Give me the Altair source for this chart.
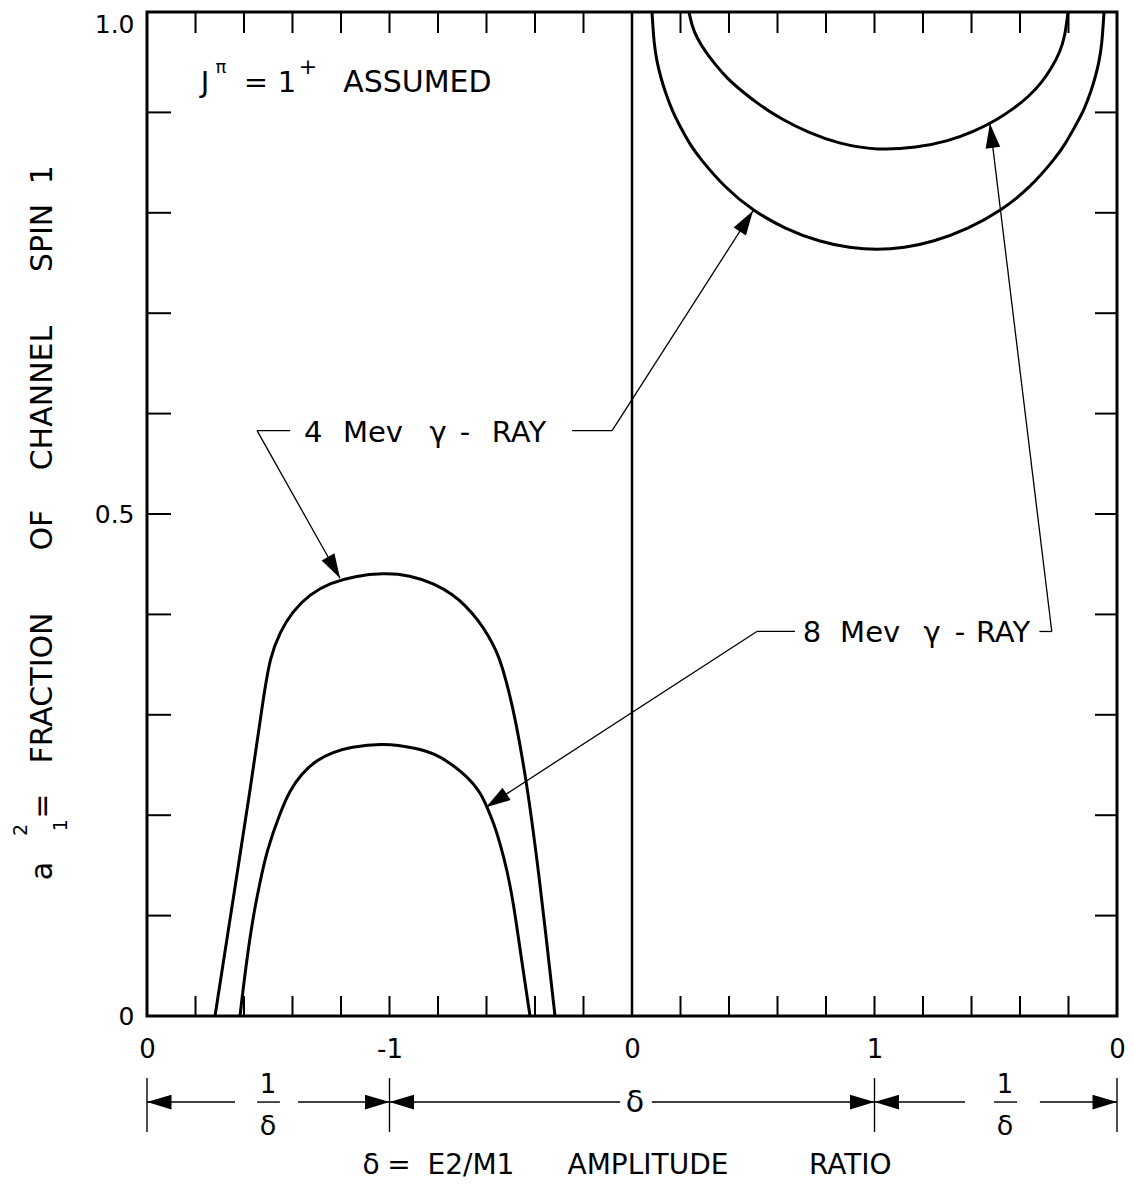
import json
import math

import altair as alt
import pandas as pd

# ---------------------------------------------------------------------------
# Plot geometry (plot area only; everything else lives in the padding)
# ---------------------------------------------------------------------------
W, H = 970, 1004
PAD = {"left": 147, "top": 12, "right": 17, "bottom": 183}
PX_PER_U = W / 4.0
FONT = "DejaVu Sans"
INK = "black"

# Horizontal coordinate u runs 0..4:
#   0..1  -> 1/δ from 0 to -1,  1..3 -> δ from -1 to +1,  3..4 -> 1/δ from +1 to 0
AXIS_POS = [0, 1, 2, 3, 4]
AXIS_TEXT = ["0", "-1", "0", "1", "0"]
Y_LABEL_POS = [0, 0.5, 1.0]
Y_MINOR = [0.1, 0.2, 0.3, 0.4, 0.5, 0.6, 0.7, 0.8, 0.9]
X_MINOR = [0.2, 0.4, 0.6, 0.8, 1.0, 1.2, 1.4, 1.6, 1.8, 2.0,
           2.2, 2.4, 2.6, 2.8, 3.0, 3.2, 3.4, 3.6, 3.8]

# ---------------------------------------------------------------------------
# a1^2 limits for the 4 MeV and 8 MeV gamma rays
# ---------------------------------------------------------------------------
low_4mev_u = [0.2804, 0.3546, 0.4289, 0.4784, 0.5072, 0.5485, 0.5979, 0.6722,
              0.7546, 0.8577, 0.9732, 1.0845, 1.1876, 1.2577, 1.3155, 1.3649,
              1.4062, 1.4392, 1.4639, 1.4887, 1.5175, 1.5670, 1.6206, 1.6495,
              1.6825]
low_4mev_a = [0.0, 0.1155, 0.2301, 0.3147, 0.3576, 0.3825, 0.4024, 0.4203,
              0.4313, 0.4382, 0.4412, 0.4392, 0.4303, 0.4203, 0.4084, 0.3944,
              0.3795, 0.3645, 0.3486, 0.3267, 0.2978, 0.2321, 0.1325, 0.0707,
              0.0]

low_8mev_u = [0.3835, 0.4082, 0.4371, 0.4660, 0.4948, 0.5485, 0.5897, 0.6392,
              0.7010, 0.7670, 0.8371, 0.9732, 1.1134, 1.1876, 1.2495, 1.3031,
              1.3443, 1.3773, 1.4021, 1.4309, 1.4557, 1.4845, 1.5093, 1.5423,
              1.5794]
low_8mev_a = [0.0, 0.0508, 0.0986, 0.1335, 0.1653, 0.2022, 0.2251, 0.2420,
              0.2550, 0.2629, 0.2679, 0.2719, 0.2669, 0.2610, 0.2520, 0.2420,
              0.2321, 0.2211, 0.2082, 0.1912, 0.1723, 0.1454, 0.1155, 0.0598,
              0.0]

up_4mev_u = [2.0825, 2.0907, 2.1031, 2.1196, 2.1361, 2.1649, 2.1979, 2.2392,
             2.2804, 2.3835, 2.4990, 2.6309, 2.7753, 2.8990, 3.0103, 3.1216,
             3.2412, 3.3856, 3.5216, 3.6412, 3.7443, 3.7856, 3.8268, 3.8639,
             3.8928, 3.9093, 3.9258, 3.9381, 3.9464]
up_4mev_a = [1.0, 0.968, 0.950, 0.934, 0.921, 0.902, 0.886, 0.868,
             0.854, 0.825, 0.802, 0.784, 0.771, 0.765, 0.763, 0.765,
             0.771, 0.784, 0.802, 0.825, 0.854, 0.868, 0.886, 0.902,
             0.921, 0.934, 0.950, 0.968, 1.0]

up_8mev_u = [2.2351, 2.2474, 2.2680, 2.3010, 2.3423, 2.3918, 2.4536, 2.5278,
             2.6186, 2.7258, 2.8495, 3.0103, 3.1753, 3.2990, 3.4103, 3.5010,
             3.5753, 3.6371, 3.6907, 3.7320, 3.7649, 3.7856, 3.7979]
up_8mev_a = [1.0, 0.986, 0.974, 0.961, 0.948, 0.934, 0.921, 0.907,
             0.893, 0.880, 0.869, 0.862, 0.865, 0.871, 0.881, 0.892,
             0.904, 0.916, 0.930, 0.945, 0.960, 0.976, 1.0]

curve_sets = {
    "4 MeV, δ<0": (low_4mev_u, low_4mev_a),
    "8 MeV, δ<0": (low_8mev_u, low_8mev_a),
    "4 MeV, δ>0": (up_4mev_u, up_4mev_a),
    "8 MeV, δ>0": (up_8mev_u, up_8mev_a),
}
curve_rows = []
for name, (us, vals) in curve_sets.items():
    for i, (u, v) in enumerate(zip(us, vals)):
        curve_rows.append({"curve": name, "i": i, "u": u, "a2": v})
curves_df = pd.DataFrame(curve_rows)

# ---------------------------------------------------------------------------
# Annotation layout (in axis units)
# ---------------------------------------------------------------------------
# text, u, a2, font size, rotation
labels = [
    ("J", 0.239, 0.929, 29, 0), ("π", 0.305, 0.944, 18, 0),
    ("=", 0.449, 0.929, 29, 0), ("1", 0.577, 0.929, 29, 0),
    ("+", 0.664, 0.945, 22, 0), ("ASSUMED", 1.115, 0.929, 30, 0),

    ("4", 0.685, 0.581, 29, 0), ("Mev", 0.932, 0.581, 29, 0),
    ("γ", 1.200, 0.581, 29, 0), ("-", 1.311, 0.581, 29, 0),
    ("RAY", 1.534, 0.581, 29, 0),

    ("8", 2.742, 0.381, 29, 0), ("Mev", 2.982, 0.381, 29, 0),
    ("γ", 3.237, 0.381, 29, 0), ("-", 3.353, 0.381, 29, 0),
    ("RAY", 3.530, 0.381, 29, 0),

    # span markers under the axis
    ("1", 0.499, -0.0687, 26, 0), ("δ", 0.499, -0.1106, 27, 0),
    ("δ", 2.012, -0.0867, 30, 0),
    ("1", 3.538, -0.0687, 26, 0), ("δ", 3.538, -0.1106, 27, 0),

    # horizontal title
    ("δ", 0.924, -0.1494, 28, 0), ("=", 1.039, -0.1494, 28, 0),
    ("E2/M1", 1.336, -0.1494, 28, 0), ("AMPLITUDE", 2.066, -0.1494, 28, 0),
    ("RATIO", 2.900, -0.1494, 28, 0),

    # vertical title
    ("a", -0.429, 0.1444, 30, 270), ("2", -0.520, 0.1853, 19, 270),
    ("1", -0.355, 0.1900, 19, 270), ("=", -0.429, 0.2090, 30, 270),
    ("FRACTION", -0.429, 0.3267, 30, 270), ("OF", -0.429, 0.4840, 30, 270),
    ("CHANNEL", -0.429, 0.6155, 30, 270), ("SPIN", -0.429, 0.7750, 30, 270),
    ("1", -0.429, 0.8380, 30, 270),
]
labels_df = pd.DataFrame(labels, columns=["text", "u", "a2", "fs", "rot"])

# leader lines: (u0, a0, u1, a1, has arrow at (u1, a1))
leaders = [
    (0.454, 0.583, 0.590, 0.583, False),
    (0.454, 0.583, 0.796, 0.436, True),
    (1.753, 0.583, 1.918, 0.583, False),
    (1.918, 0.583, 2.499, 0.802, True),
    (2.515, 0.383, 2.672, 0.383, False),
    (2.515, 0.383, 1.398, 0.208, True),
    (3.680, 0.383, 3.731, 0.383, False),
    (3.731, 0.383, 3.476, 0.889, True),
]
leaders_df = pd.DataFrame(leaders, columns=["u0", "a0", "u1", "a1", "arrow"])

# span row below the axis
ROW = -0.0857
span_lines = [(0.0, 0.363), (0.623, 1.0), (1.0, 1.951), (2.082, 3.0),
              (3.0, 3.373), (3.682, 4.0), (0.454, 0.548), (3.493, 3.588)]
span_df = pd.DataFrame(span_lines, columns=["u0", "u1"]).assign(a=ROW)
span_ticks_df = pd.DataFrame({"u": [0, 1, 3, 4], "a0": -0.0618, "a1": -0.1155})

arrow_rows = [(u, ROW, ang) for u, ang in
              [(0, 180), (1, 0), (1, 180), (3, 0), (3, 180), (4, 0)]]
for r in leaders:
    if r[4]:
        dx = (r[2] - r[0]) * PX_PER_U
        dy = -(r[3] - r[1]) * H
        arrow_rows.append((r[2], r[3], math.degrees(math.atan2(dy, dx)) % 360))
arrows_df = pd.DataFrame(arrow_rows, columns=["u", "a2", "ang"])

# ---------------------------------------------------------------------------
# Chart
# ---------------------------------------------------------------------------
xs = alt.Scale(domain=[0, 4], nice=False, zero=False)
ys = alt.Scale(domain=[0, 1], nice=False, zero=False)

X_AXIS = alt.Axis(
    values=AXIS_POS, labelExpr=json.dumps(AXIS_TEXT) + "[datum.value]",
    title=None, ticks=False, domain=False, grid=False, labelFontSize=26,
    labelPadding=20, labelFlush=False, labelOverlap=False, labelBound=False)
Y_AXIS = alt.Axis(
    values=Y_LABEL_POS,
    labelExpr="datum.value == 0 ? '0' : format(datum.value, '.1f')",
    labelBaseline={"condition": {"test": "datum.value >= 1", "value": "top"},
                   "value": "middle"},
    title=None, ticks=False, domain=False, grid=False, labelFontSize=25,
    labelPadding=13, labelFlush=False, labelOverlap=False)


def X(field):
    return alt.X(field, scale=xs, axis=X_AXIS)


def Y(field):
    return alt.Y(field, scale=ys, axis=Y_AXIS)


curves = alt.Chart(curves_df).mark_line(
    interpolate="basis", color=INK, strokeWidth=3, clip=True
).encode(x=X("u:Q"), y=Y("a2:Q"), detail="curve:N", order="i:Q")

mid_line = alt.Chart(pd.DataFrame({"u": [2.0]})).mark_rule(
    color=INK, strokeWidth=2.5
).encode(x=X("u:Q"), y=alt.value(0), y2=alt.value(H))

xt = pd.DataFrame({"u": X_MINOR})
yt = pd.DataFrame({"a2": Y_MINOR})
tick_top = alt.Chart(xt).mark_rule(color=INK, strokeWidth=2).encode(
    x=X("u:Q"), y=alt.value(0), y2=alt.value(21))
tick_bottom = alt.Chart(xt).mark_rule(color=INK, strokeWidth=2).encode(
    x=X("u:Q"), y=alt.value(H), y2=alt.value(H - 20))
tick_left = alt.Chart(yt).mark_rule(color=INK, strokeWidth=2).encode(
    y=Y("a2:Q"), x=alt.value(0), x2=alt.value(24))
tick_right = alt.Chart(yt).mark_rule(color=INK, strokeWidth=2).encode(
    y=Y("a2:Q"), x=alt.value(W), x2=alt.value(W - 22))

leader_lines = alt.Chart(leaders_df).mark_rule(color=INK, strokeWidth=1.3).encode(
    x=X("u0:Q"), x2="u1:Q", y=Y("a0:Q"), y2="a1:Q")

span_lines_layer = alt.Chart(span_df).mark_rule(color=INK, strokeWidth=1.4).encode(
    x=X("u0:Q"), x2="u1:Q", y=Y("a:Q"))

span_ticks = alt.Chart(span_ticks_df).mark_rule(color=INK, strokeWidth=1.4).encode(
    x=X("u:Q"), y=Y("a0:Q"), y2="a1:Q")

ARROW = "M0,0 L-2,-0.6 L-2,0.6 Z"
arrowheads = alt.Chart(arrows_df).mark_point(
    shape=ARROW, filled=True, color=INK, opacity=1, size=600, strokeWidth=0
).encode(x=X("u:Q"), y=Y("a2:Q"), angle=alt.Angle("ang:Q", scale=None))

texts = alt.Chart(labels_df).mark_text(
    font=FONT, color=INK, align="center", baseline="middle"
).encode(
    x=X("u:Q"), y=Y("a2:Q"), text="text:N",
    size=alt.Size("fs:Q", scale=None),
    angle=alt.Angle("rot:Q", scale=None),
)

chart = alt.layer(
    curves, mid_line, tick_top, tick_bottom, tick_left, tick_right,
    leader_lines, span_lines_layer, span_ticks, arrowheads, texts,
).properties(
    width=W, height=H,
    autosize=alt.AutoSizeParams(type="none"),
    padding=PAD,
    background="white",
).configure_view(
    stroke=INK, strokeWidth=3, fill="white"
).configure_axis(
    labelFont=FONT, labelColor=INK
)

chart.save("out.html", embed_options={"renderer": "svg", "actions": False})
